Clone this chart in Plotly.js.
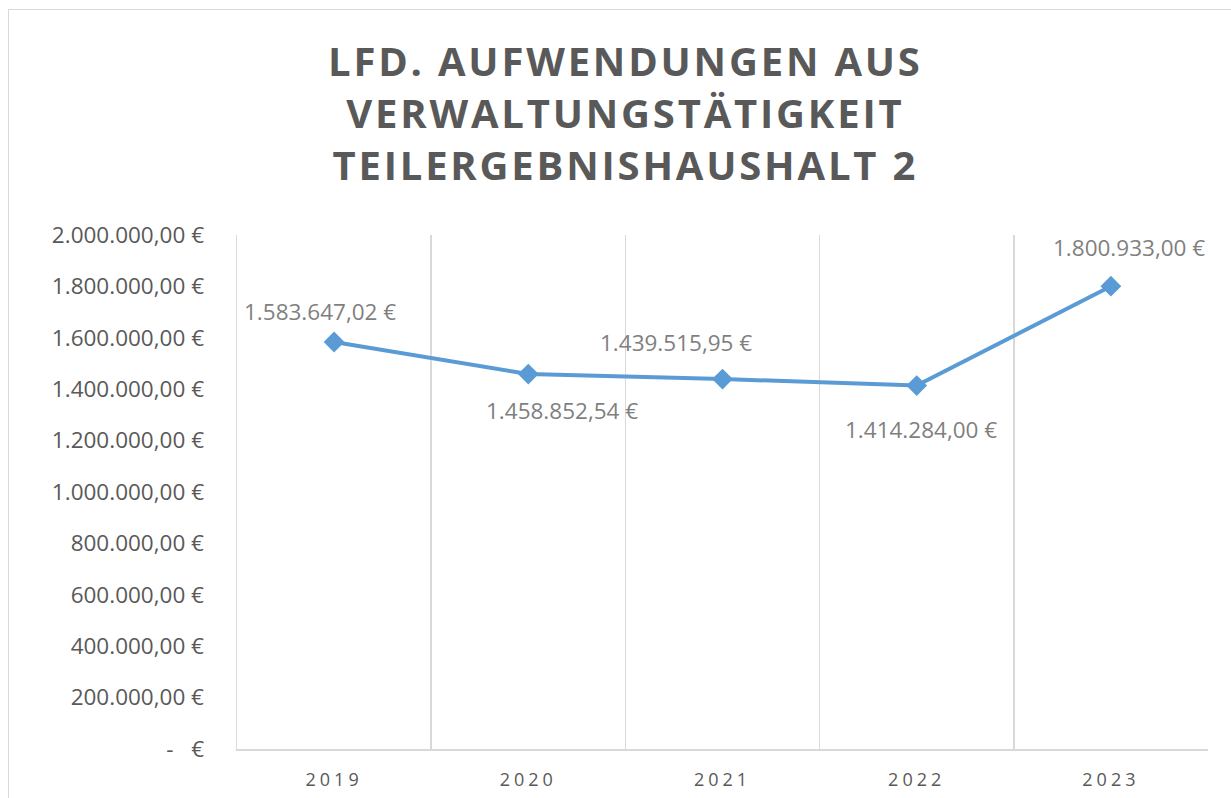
<!DOCTYPE html>
<html>
<head>
<meta charset="utf-8">
<script src="https://cdn.plot.ly/plotly-3.0.1.min.js"></script>
<style>
  html, body { margin: 0; padding: 0; background: #fff; }
  #chart { width: 1231px; height: 798px; }
  #frame { position: absolute; left: 8px; top: 9px; width: 1400px; height: 1000px;
           border: 1px solid #d9d9d9; pointer-events: none; }
  .gtitle { letter-spacing: 2.8px; }
  .xtick text { letter-spacing: 4px; }
</style>
</head>
<body>
<div id="chart"></div>
<div id="frame"></div>
<script>
// ---- data ----
const years = ['2019', '2020', '2021', '2022', '2023'];
const values = [1583647.02, 1458852.54, 1439515.95, 1414284.00, 1800933.00];
const yTickValues = [0, 200000, 400000, 600000, 800000, 1000000, 1200000, 1400000, 1600000, 1800000, 2000000];
const titleLines = ['LFD. AUFWENDUNGEN AUS', 'VERWALTUNGSTÄTIGKEIT', 'TEILERGEBNISHAUSHALT 2'];

// ---- label placement (style) ----
const labelDx = [-14, 34, -47, 4, 18];
const labelDy = [31, -36, 37, -44, 39];

function euro(v) {
  if (v === 0) return '-\u00a0\u00a0\u00a0€';
  const parts = v.toFixed(2).split('.');
  const intPart = parts[0].replace(/\B(?=(\d{3})+(?!\d))/g, '.');
  return intPart + ',' + parts[1] + ' €';
}

const trace = {
  type: 'scatter',
  mode: 'lines+markers',
  x: years,
  y: values,
  line: { color: '#5b9bd5', width: 4 },
  marker: { symbol: 'diamond', size: 16, color: '#5b9bd5' },
  hoverinfo: 'x+y'
};

const annotations = years.map((yr, i) => ({
  x: i, y: values[i], xref: 'x', yref: 'y',
  text: euro(values[i]),
  showarrow: false,
  xanchor: 'center', yanchor: 'middle',
  xshift: labelDx[i], yshift: labelDy[i],
  font: { family: 'Open Sans', size: 22.5, color: '#7f7f7f' }
}));

const layout = {
  width: 1231, height: 798,
  margin: { l: 237, r: 23, t: 235, b: 49, pad: 0 },
  paper_bgcolor: '#ffffff', plot_bgcolor: '#ffffff',
  showlegend: false,
  title: {
    text: '<b>' + titleLines.join('<br>') + '</b>',
    x: 0.508, xanchor: 'center',
    y: 0.905, yanchor: 'top',
    font: { family: 'Open Sans', size: 40, color: '#595959' }
  },
  xaxis: {
    type: 'category',
    range: [-0.5, 4.5],
    tickson: 'boundaries',
    showgrid: true, gridcolor: '#d9d9d9', gridwidth: 1.5,
    showline: true, linecolor: '#d9d9d9', linewidth: 1.5,
    ticks: '', ticklabelstandoff: 14,
    tickfont: { family: 'Open Sans', size: 18, color: '#595959' },
    zeroline: false, fixedrange: true
  },
  yaxis: {
    range: [0, 2000000],
    tickvals: yTickValues,
    ticktext: yTickValues.map(euro),
    showgrid: false, zeroline: false,
    showline: true, linecolor: '#d9d9d9', linewidth: 1.5,
    ticks: '', ticklabelstandoff: 27,
    tickfont: { family: 'Open Sans', size: 22.5, color: '#595959' },
    fixedrange: true
  },
  annotations: annotations
};

Plotly.newPlot('chart', [trace], layout, { displayModeBar: false, staticPlot: true });
</script>
</body>
</html>
